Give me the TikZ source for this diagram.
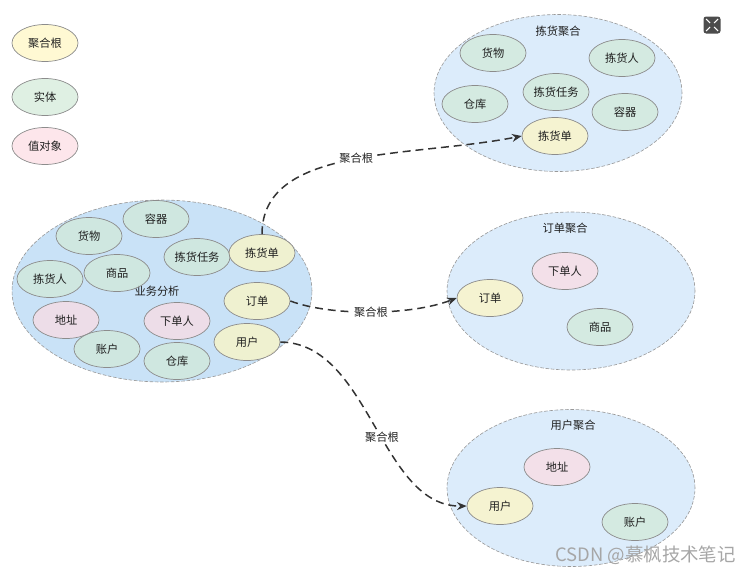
\documentclass[tikz,border=0pt]{standalone}
\usepackage{fontspec}
\setmainfont{Noto Sans CJK SC}
\usetikzlibrary{shapes.geometric,arrows.meta}
\definecolor{rootc}{HTML}{FFF7C2}
\definecolor{entc}{HTML}{D2EAD8}
\definecolor{valc}{HTML}{FCDCE3}
\definecolor{bigl}{HTML}{C9E2F7}
\definecolor{bigr}{HTML}{DCECFB}
\definecolor{linec}{HTML}{333333}
\tikzset{
  x=0.02cm, y=-0.02cm,
  every node/.style={font=\fontsize{6.4}{7}\selectfont, text=black!88},
  sm/.style={ellipse, minimum width=1.32cm, minimum height=0.74cm, inner sep=0pt, draw=black!45, line width=0.4pt, fill opacity=0.72, text opacity=1},
  rootn/.style={sm, fill=rootc},
  entn/.style={sm, fill=entc},
  valn/.style={sm, fill=valc},
  bigbox/.style={ellipse, draw=black!40, dashed, dash pattern=on 2pt off 1pt, line width=0.35pt, inner sep=0pt},
  conn/.style={draw=linec, line width=0.85pt, dash pattern=on 4.5pt off 2.8pt, -{Stealth[length=5.5pt,width=4.5pt]}},
  lab/.style={fill=white, inner sep=1pt}
}
\begin{document}
\begin{tikzpicture}
\useasboundingbox (0,0) rectangle (756,575);
% legend
\node[rootn] (lg1) at (45,43) {聚合根};
\node[entn] (lg2) at (45,97) {实体};
\node[valn] (lg3) at (45,146) {值对象};
% big containers
\node[bigbox, fill=bigl, minimum width=6cm, minimum height=3.64cm] (biz) at (162,291) {};
\node[bigbox, fill=bigr, minimum width=4.96cm, minimum height=3.14cm] (agp) at (558,93) {};
\node[bigbox, fill=bigr, minimum width=4.96cm, minimum height=3.16cm] (ago) at (571,291) {};
\node[bigbox, fill=bigr, minimum width=4.96cm, minimum height=3.14cm] (agu) at (571,488) {};
% left analysis
\node (bizl) at (157,291) {业务分析};
\node[entn] (b1) at (156,219) {容器};
\node[entn] (b2) at (89,236) {货物};
\node[entn] (b3) at (197,257) {拣货任务};
\node[rootn] (pl) at (262,253) {拣货单};
\node[entn] (b5) at (50,279) {拣货人};
\node[entn] (b6) at (117,273) {商品};
\node[rootn] (ol) at (257,301) {订单};
\node[valn] (b8) at (66,320) {地址};
\node[valn] (b9) at (177,321) {下单人};
\node[rootn] (ul) at (247,342) {用户};
\node[entn] (b11) at (107,349) {账户};
\node[entn] (b12) at (177,361) {仓库};
% picking aggregate
\node (agpl) at (558,31) {拣货聚合};
\node[entn] (p1) at (493,53) {货物};
\node[entn] (p2) at (622,58) {拣货人};
\node[entn] (p3) at (556,92) {拣货任务};
\node[entn] (p4) at (475,104) {仓库};
\node[entn] (p5) at (625,112) {容器};
\node[rootn] (pr) at (555,136) {拣货单};
% order aggregate
\node (agol) at (565,228) {订单聚合};
\node[valn] (o1) at (565,271) {下单人};
\node[rootn] (or) at (490,298) {订单};
\node[entn] (o3) at (600,327) {商品};
% user aggregate
\node (agul) at (573,425) {用户聚合};
\node[valn] (u1) at (557,467) {地址};
\node[rootn] (ur) at (500,506) {用户};
\node[entn] (u3) at (635,522) {账户};
% connectors
\draw[conn] (pl.north) .. controls (262,145) and (410,158) .. (pr.west)
  node[lab, pos=0.52] {聚合根};
\draw[conn] (ol.east) .. controls (330,316) and (410,316) .. (or.west)
  node[lab, pos=0.5] {聚合根};
\draw[conn] (ul.east) .. controls (370,343) and (380,507) .. (ur.west)
  node[lab, pos=0.55] {聚合根};
% expand icon
\node[fill=black!70, rounded corners=1.5pt, minimum size=0.34cm, inner sep=0pt] (ic) at (712,25) {};
\draw[white, line width=0.6pt] (ic.center) ++(-2,-2) -- ++(-4,-4) ++(0,0) ++(4,4) ++(4,0) -- ++(4,-4) ++(-4,4) ++(0,4) -- ++(4,4) ++(-4,-4) ++(-4,0) -- ++(-4,4);
% watermark
\node[font=\fontsize{10.5}{12}\selectfont, text=black!35, anchor=east] (wm) at (742,555) {CSDN @慕枫技术笔记};
\end{tikzpicture}
\end{document}
